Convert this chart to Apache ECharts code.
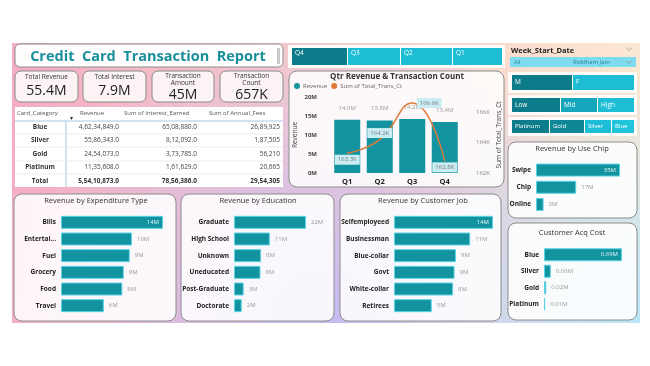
<!DOCTYPE html>
<html><head><meta charset="utf-8">
<script src="https://cdn.jsdelivr.net/npm/echarts@6/dist/echarts.min.js"></script>
<style>html,body{margin:0;padding:0;background:#fff}#c{width:650px;height:366px}</style>
</head><body><div id="c"></div>
<script>
const FONT = "'Open Sans', 'Noto Sans', sans-serif";
// ---- data ----
const reportTitle = 'Credit  Card  Transaction  Report';
const kpiLabels = [['Total Revenue'], ['Total Interest'], ['Transaction', 'Amount'], ['Transaction', 'Count']];
const kpiValues = ['55.4M', '7.9M', '45M', '657K'];

const tableHeaders = ['Card_Category', 'Revenue', 'Sum of Interest_Earned', 'Sum of Annual_Fees'];
const cardCategories = ['Blue', 'Silver', 'Gold', 'Platinum'];
const cardRevenue = [46234849, 5586343, 2454073, 1135608];
const cardInterest = [6508880, 812092, 373785, 161629];
const cardFees = [2689925, 187505, 56210, 20665];
const tableTotals = [55410873, 7856386, 2954305];

const quarters = ['Q1', 'Q2', 'Q3', 'Q4'];
const qtrRevenue = [14.0, 13.8, 14.2, 13.4];      // millions
const qtrTransCt = [163.3, 164.2, 166.6, 162.8];  // thousands

const expTypes = ['Bills', 'Entertainment', 'Fuel', 'Grocery', 'Food', 'Travel'];
const expRevenue = [13.8, 9.6, 9.3, 8.5, 8.3, 5.8];
const eduLevels = ['Graduate', 'High School', 'Unknown', 'Uneducated', 'Post-Graduate', 'Doctorate'];
const eduRevenue = [22.3, 11.1, 8.4, 8.2, 3.0, 2.4];
const jobTypes = ['Selfemployeed', 'Businessman', 'Blue-collar', 'Govt', 'White-collar', 'Retirees'];
const jobRevenue = [13.9, 10.7, 8.7, 8.5, 8.3, 5.3];
const chipTypes = ['Swipe', 'Chip', 'Online'];
const chipRevenue = [35.3, 16.9, 3.2];
const acqCards = ['Blue', 'Silver', 'Gold', 'Platinum'];
const acqCost = [0.69, 0.06, 0.02, 0.01];

const qtrSlicer = ['Q4', 'Q3', 'Q2', 'Q1'];
const genderSlicer = ['M', 'F'];
const incomeSlicer = ['Low', 'Mid', 'High'];
const cardSlicer = ['Platinum', 'Gold', 'Silver', 'Blue'];

// ---- helpers ----
function inr(n, dec) {
  let s = Math.round(n).toString();
  let last3 = s.slice(-3), rest = s.slice(0, -3);
  if (rest) last3 = ',' + last3;
  rest = rest.replace(/\B(?=(\d{2})+(?!\d))/g, ',');
  return rest + last3 + (dec ? '.0' : '');
}
const G = [];
function rect(x, y, w, h, fill, o = {}) {
  G.push({ type: 'rect', z: o.z || -5, silent: true, shape: { x, y, width: w, height: h, r: o.r || 0 },
    style: { fill, stroke: o.stroke || null, lineWidth: o.lw || 0 } });
}
function text(x, y, t, o = {}) {
  const al = o.align || 'left';
  G.push({ type: 'text', z: o.z || 6, silent: true, x, y,
    style: { text: t, fill: o.color || '#333', font: `${o.weight || 'normal'} ${o.size || 7}px ${FONT}`,
      textAlign: al, textVerticalAlign: 'middle', align: al, verticalAlign: 'middle' } });
}
function line(x1, y1, x2, y2, color, w) {
  G.push({ type: 'line', z: -3, silent: true, shape: { x1, y1, x2, y2 }, style: { stroke: color, lineWidth: w || 1 } });
}
function chevron(x, y) {
  G.push({ type: 'polyline', z: 6, silent: true, shape: { points: [[x - 3, y - 1.5], [x, y + 1.5], [x + 3, y - 1.5]] },
    style: { stroke: '#999', lineWidth: 0.8, fill: null } });
}
const DARK = '#0d7c8a', MID = '#16a6bb', LIGHT = '#1dbdd5';

// ---- background ----
G.push({ type: 'rect', z: -10, silent: true, shape: { x: 12, y: 43, width: 628, height: 280 },
  style: { fill: new echarts.graphic.LinearGradient(0, 0, 1, 0, [
    { offset: 0, color: '#f3adc4' }, { offset: 0.45, color: '#f8cbca' }, { offset: 1, color: '#fce8d2' }]) } });
G.push({ type: 'rect', z: -9, silent: true, shape: { x: 12, y: 43, width: 628, height: 280 },
  style: { fill: new echarts.graphic.RadialGradient(0.5, 1, 1.1, [
    { offset: 0, color: 'rgba(195,185,245,0.95)' }, { offset: 1, color: 'rgba(195,185,245,0)' }]) } });
G.push({ type: 'rect', z: -8, silent: true, shape: { x: 12, y: 43, width: 628, height: 280 },
  style: { fill: new echarts.graphic.RadialGradient(1, 1, 0.9, [
    { offset: 0, color: 'rgba(185,228,250,1)' }, { offset: 1, color: 'rgba(185,228,250,0)' }]) } });

// ---- title & KPI ----
rect(15, 44, 268, 23, '#fffdfd', { r: 5, stroke: '#8c8c8c', lw: 1 });
rect(277, 48, 3, 16, '#c8c8c8', { z: -4 });
text(148, 56.5, reportTitle, { size: 14.5, weight: 'bold', color: '#17909c', align: 'center' });
const kpiX = [15, 83, 152, 220], kpiW = [63, 63, 62, 63];
kpiLabels.forEach((lab, i) => {
  rect(kpiX[i], 71, kpiW[i], 31, '#fcf4f4', { r: 6, stroke: '#8a8a8a', lw: 1 });
  const cx = kpiX[i] + kpiW[i] / 2;
  if (lab.length === 1) {
    text(cx, 77, lab[0], { size: 6.5, align: 'center', color: '#333' });
    text(cx, 91.5, kpiValues[i], { size: 14, align: 'center', color: '#222' });
  } else {
    text(cx, 76, lab[0], { size: 6.5, align: 'center', color: '#333' });
    text(cx, 83, lab[1], { size: 6.5, align: 'center', color: '#333' });
    text(cx, 95.5, kpiValues[i], { size: 14, align: 'center', color: '#222' });
  }
});

// ---- table ----
rect(15, 107, 268, 80, '#ffffff');
text(17, 113.5, tableHeaders[0], { size: 6, color: '#555' });
text(80, 113.5, tableHeaders[1], { size: 6, color: '#555' });
text(124, 113.5, tableHeaders[2], { size: 6, color: '#555' });
text(209, 113.5, tableHeaders[3], { size: 6, color: '#555' });
text(71, 118.5, '▾', { size: 6, color: '#333', align: 'center' });
line(15, 121, 283, 121, '#a9c6e6', 1);
line(66, 121, 66, 187, '#a9c6e6', 1);
[134, 147, 161, 174].forEach(y => line(15, y, 283, y, '#ececec', 1));
const rowY = [127.5, 140.5, 154, 167.5, 181];
cardCategories.forEach((c, i) => {
  text(40, rowY[i], c, { size: 6.5, weight: 'bold', align: 'center', color: '#333' });
  text(119, rowY[i], inr(cardRevenue[i], true), { size: 6.5, align: 'right', color: '#444' });
  text(197, rowY[i], inr(cardInterest[i], true), { size: 6.5, align: 'right', color: '#444' });
  text(280, rowY[i], inr(cardFees[i], false), { size: 6.5, align: 'right', color: '#444' });
});
text(40, rowY[4], 'Total', { size: 6.5, weight: 'bold', align: 'center', color: '#333' });
text(119, rowY[4], inr(tableTotals[0], true), { size: 6.5, weight: 'bold', align: 'right', color: '#333' });
text(197, rowY[4], inr(tableTotals[1], true), { size: 6.5, weight: 'bold', align: 'right', color: '#333' });
text(280, rowY[4], inr(tableTotals[2], false), { size: 6.5, weight: 'bold', align: 'right', color: '#333' });

// ---- quarter slicer ----
rect(288, 45, 217, 23, 'rgba(255,255,255,0.92)');
const qx = [292, 348, 401, 453], qw = [55, 52, 51, 49];
qtrSlicer.forEach((q, i) => {
  rect(qx[i], 48, qw[i], 17, i === 0 ? DARK : LIGHT, { z: -4 });
  text(qx[i] + 3, 53, q, { size: 6.5, color: '#fff' });
});

// ---- qtr chart box ----
rect(289, 71, 215, 116, 'rgba(255,255,255,0.85)', { r: 8, stroke: '#8c8c8c', lw: 1 });
text(397, 77, 'Qtr Revenue & Transaction Count', { size: 8, weight: 'bold', align: 'center', color: '#333' });

// ---- right column slicers ----
text(511, 51, 'Week_Start_Date', { size: 7.5, weight: 'bold', color: '#222' });
chevron(629, 49);
rect(510, 57, 126, 10, '#7ddcef', { z: -4 });
text(514, 62.5, 'All', { size: 5.5, color: '#2b7f96' });
text(573, 62, 'Riddham Jain', { size: 6, color: '#2b7f96' });
chevron(629, 62);
rect(508, 72, 129, 21, 'rgba(255,255,255,0.88)');
rect(508, 95, 129, 20, 'rgba(255,255,255,0.88)');
rect(508, 117, 129, 19, 'rgba(255,255,255,0.88)');
const gx = [512, 573], gw = [60, 61];
genderSlicer.forEach((g, i) => { rect(gx[i], 75, gw[i], 15, i === 0 ? DARK : LIGHT, { z: -4 }); text(gx[i] + 3, 82.5, g, { size: 6.5, color: '#fff' }); });
const ix = [512, 561, 598], iw = [48, 36, 36], ic = [DARK, MID, LIGHT];
incomeSlicer.forEach((s, i) => { rect(ix[i], 98, iw[i], 14, ic[i], { z: -4 }); text(ix[i] + 3, 105, s, { size: 6.5, color: '#fff' }); });
const cx2 = [512, 550, 585, 612], cw2 = [37, 34, 26, 22], cc2 = [DARK, '#108796', LIGHT, '#22c4dc'];
cardSlicer.forEach((s, i) => { rect(cx2[i], 120, cw2[i], 13, cc2[i], { z: -4 }); text(cx2[i] + 3, 126.5, s, { size: 6, color: '#fff' }); });

// ---- chart boxes ----
const BOXF = 'rgba(255,255,255,0.88)';
rect(508, 142, 129, 76, BOXF, { r: 8, stroke: '#8c8c8c', lw: 1 });
text(572, 149, 'Revenue by Use Chip', { size: 7.5, align: 'center', color: '#333' });
rect(508, 223, 129, 97, BOXF, { r: 8, stroke: '#8c8c8c', lw: 1 });
text(572, 233, 'Customer Acq Cost', { size: 7.5, align: 'center', color: '#333' });
rect(14, 194, 162, 127, BOXF, { r: 8, stroke: '#8c8c8c', lw: 1 });
text(96, 201, 'Revenue by Expenditure Type', { size: 7.5, align: 'center', color: '#333' });
rect(181, 194, 153, 127, BOXF, { r: 8, stroke: '#8c8c8c', lw: 1 });
text(258, 201, 'Revenue by Education', { size: 7.5, align: 'center', color: '#333' });
rect(340, 194, 161, 127, BOXF, { r: 8, stroke: '#8c8c8c', lw: 1 });
text(423, 201, 'Revenue by Customer Job', { size: 7.5, align: 'center', color: '#333' });

// ---- charts ----
const BAR = '#13929f';
const grids = [
  { left: 331, top: 97, width: 130, height: 76 },          // 0 qtr
  { left: 61, top: 214, width: 102, height: 100 },         // 1 exp
  { left: 234, top: 214, width: 72, height: 100 },         // 2 edu
  { left: 394, top: 214, width: 99, height: 100 },         // 3 job
  { left: 536, top: 161.5, width: 84, height: 51.5 },      // 4 chip
  { left: 544, top: 246.5, width: 78, height: 66 }         // 5 acq
];
const xAxes = [{
  type: 'category', gridIndex: 0, data: quarters, axisLine: { show: false }, axisTick: { show: false }, z: 5,
  axisLabel: { fontFamily: FONT, fontSize: 7.5, fontWeight: 'bold', color: '#222', margin: 5 }
}];
const yAxes = [
  { type: 'value', gridIndex: 0, min: 0, max: 20, interval: 5, splitLine: { show: false }, z: 5,
    axisLabel: { formatter: '{value}M', fontFamily: FONT, fontSize: 6, fontWeight: 'bold', color: '#444', margin: 14 },
    name: 'Revenue', nameLocation: 'middle', nameGap: 32, nameRotate: 90,
    nameTextStyle: { fontFamily: FONT, fontSize: 6.5, color: '#444' } },
  { type: 'value', gridIndex: 0, position: 'right', min: 162, max: 167, interval: 2, splitLine: { show: false }, z: 5,
    axisLabel: { formatter: '{value}K', fontFamily: FONT, fontSize: 6, color: '#888', margin: 15, showMaxLabel: false },
    name: 'Sum of Total_Trans_Ct', nameLocation: 'middle', nameGap: 35, nameRotate: 90,
    nameTextStyle: { fontFamily: FONT, fontSize: 6.5, color: '#444' } }
];
const series = [
  { type: 'bar', name: 'Revenue', xAxisIndex: 0, yAxisIndex: 0, data: qtrRevenue, barWidth: 26,
    itemStyle: { color: BAR }, label: { show: true, position: 'top', distance: 9, formatter: p => p.value.toFixed(1) + 'M',
      fontFamily: FONT, fontSize: 6, color: '#999' } },
  { type: 'line', name: 'Sum of Total_Trans_Ct', xAxisIndex: 0, yAxisIndex: 1, smooth: 0.5,
    symbol: 'circle', symbolSize: 1, itemStyle: { color: '#e07b39' }, lineStyle: { color: '#e07b39', width: 1.5 },
    label: { show: true, formatter: p => p.value.toFixed(1) + 'K', fontFamily: FONT, fontSize: 6, color: '#777',
      backgroundColor: '#c9edf3', padding: [2, 3] },
    data: qtrTransCt.map((v, i) => ({ value: v, label: [
      { position: 'bottom', distance: 1 }, { position: 'top', distance: 1 },
      { position: 'right', distance: 4 }, { position: 'bottom', distance: 1 }][i] })) }
];
function hbar(gi, cats, vals, insideIdx, fmt, labelWidth) {
  xAxes.push({ type: 'value', gridIndex: gi, min: 0, max: 'dataMax', show: false });
  yAxes.push({ type: 'category', gridIndex: gi, data: cats, inverse: true, axisLine: { show: false }, axisTick: { show: false }, z: 5,
    axisLabel: Object.assign({ fontFamily: FONT, fontSize: 6.5, fontWeight: 'bold', color: '#222', margin: 5 },
      labelWidth ? { width: labelWidth, overflow: 'truncate', ellipsis: '...' } : {}) });
  const xi = xAxes.length - 1, yi = yAxes.length - 1;
  series.push({ type: 'bar', xAxisIndex: xi, yAxisIndex: yi, barWidth: 13,
    itemStyle: { color: BAR, borderColor: '#5cd3e3', borderWidth: 1 },
    label: { show: true, position: 'right', distance: 5, formatter: p => fmt(p.value), fontFamily: FONT, fontSize: 6, color: '#999' },
    data: vals.map((v, i) => i === insideIdx ? { value: v, label: { position: 'insideRight', color: '#e4f6f8', distance: 4 } } : v) });
}
const fmtM = v => Math.round(v) + 'M';
hbar(1, expTypes, expRevenue, 0, fmtM, 34);
hbar(2, eduLevels, eduRevenue, -1, fmtM);
hbar(3, jobTypes, jobRevenue, 0, fmtM);
hbar(4, chipTypes, chipRevenue, 0, fmtM);
hbar(5, acqCards, acqCost, 0, v => v.toFixed(2) + 'M');

const chart = echarts.init(document.getElementById('c'), null, { renderer: 'canvas' });
chart.setOption({
  animation: false,
  backgroundColor: '#ffffff',
  textStyle: { fontFamily: FONT },
  legend: { left: 292, top: 81, padding: 2, icon: 'circle', itemWidth: 6, itemHeight: 6, itemGap: 4, data: ['Revenue', 'Sum of Total_Trans_Ct'],
    textStyle: { fontFamily: FONT, fontSize: 6, color: '#666', padding: [0, 0, 0, -2] } },
  grid: grids, xAxis: xAxes, yAxis: yAxes, series, graphic: G
});
</script></body></html>
